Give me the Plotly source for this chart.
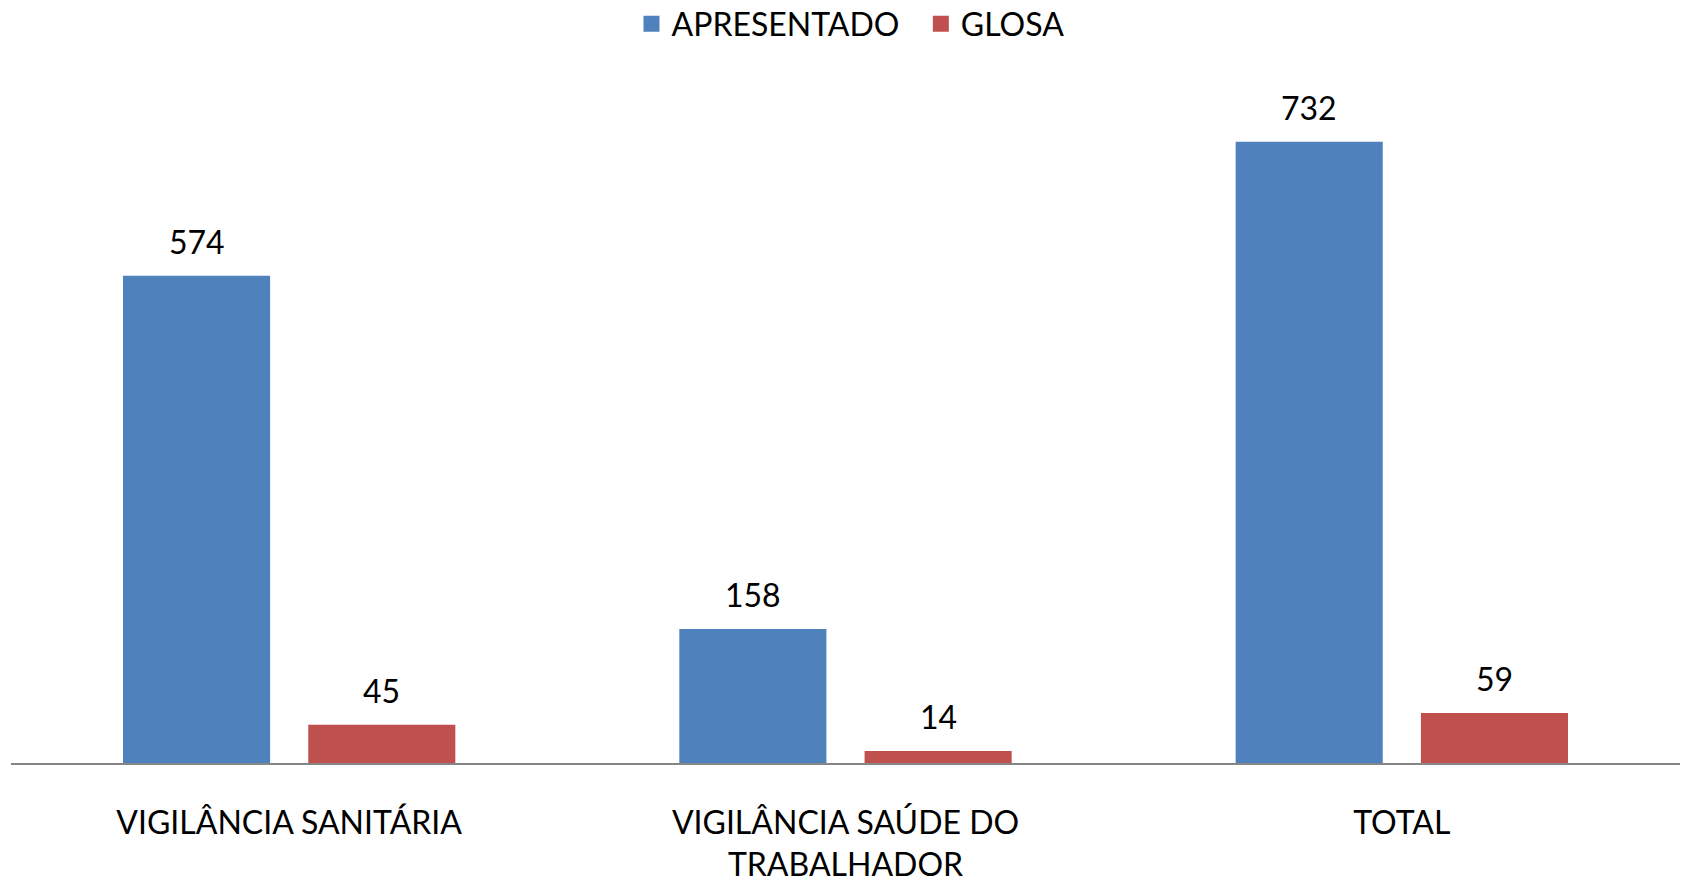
import plotly.graph_objects as go

categories = ["VIGILÂNCIA SANITÁRIA", "VIGILÂNCIA SAÚDE DO<br>TRABALHADOR", "TOTAL"]
apresentado = [574, 158, 732]
glosa = [45, 14, 59]
series_names = ["APRESENTADO", "GLOSA"]
colors = ["#4F81BD", "#C0504D"]

FONT = "Lato"
FS = 32

fig = go.Figure()
for name, vals, col in zip(series_names, [apresentado, glosa], colors):
    fig.add_trace(go.Bar(
        x=categories, y=vals, name=name, showlegend=False,
        marker=dict(color=col, line=dict(width=0)),
    ))
# legend entries with larger square keys
legend_labels = [series_names[0] + "\u00a0\u00a0", series_names[1]]
for name, col in zip(legend_labels, colors):
    fig.add_trace(go.Scatter(
        x=[None], y=[None], mode="markers", name=name,
        marker=dict(symbol="square", size=20, color=col),
    ))

# value labels above bars
bargap = 0.334
slot = (1 - bargap) / 2
for s, vals in enumerate([apresentado, glosa]):
    off = -slot / 2 + s * slot
    for i, v in enumerate(vals):
        fig.add_annotation(
            x=i + off, y=v, xref="x", yref="y",
            text=str(v), showarrow=False, yanchor="bottom",
            yshift=13, font=dict(family=FONT, size=FS, color="#000000"),
        )

fig.update_layout(
    width=1685, height=883,
    paper_bgcolor="white", plot_bgcolor="white",
    margin=dict(l=11, r=5, t=84, b=120, autoexpand=False),
    barmode="group", bargap=bargap, bargroupgap=0.206,
    font=dict(family=FONT, size=FS, color="#000000"),
    legend=dict(orientation="h", x=0.5 + 8 / 1685, xanchor="center", xref="container",
                y=1 - 24 / 883, yanchor="middle", yref="container",
                font=dict(family=FONT, size=FS), itemwidth=30, bgcolor="rgba(0,0,0,0)"),
    showlegend=True,
)
fig.update_xaxes(
    showline=True, linecolor="#868686", linewidth=2, showgrid=False,
    ticks="", ticklabelstandoff=31, tickfont=dict(family=FONT, size=FS, color="#000000"),
    zeroline=False, automargin=False,
)
fig.update_yaxes(range=[0, 800], visible=False, showgrid=False, zeroline=False, automargin=False)

fig.write_html("out.html", config={"displayModeBar": False},
               post_script="document.body.style.margin='0px';document.body.style.overflow='hidden';")
